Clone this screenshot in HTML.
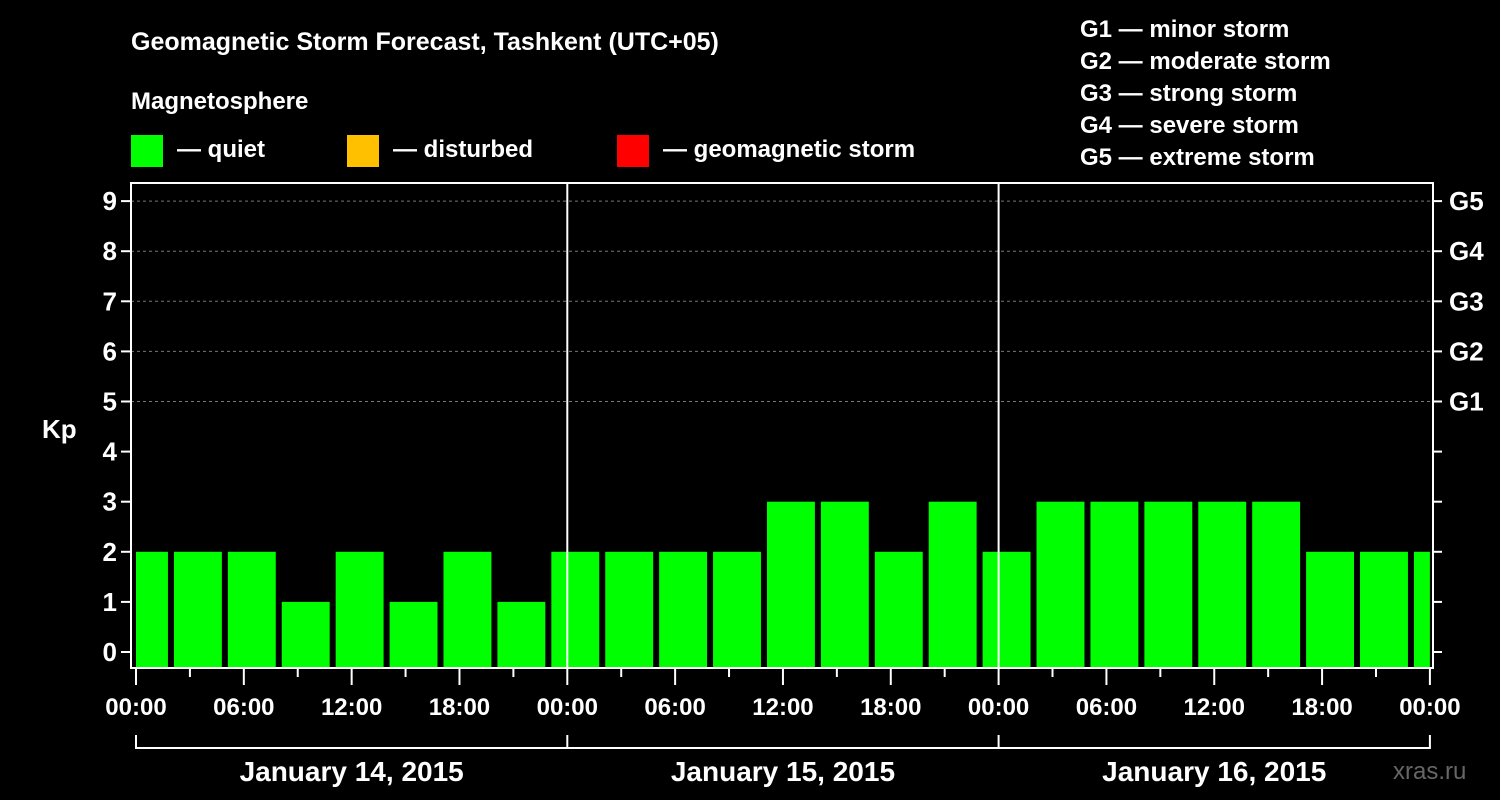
<!DOCTYPE html>
<html><head><meta charset="utf-8"><style>
body{margin:0;background:#000;}
svg{display:block;font-family:"Liberation Sans",Arial,sans-serif;font-weight:bold;}
</style></head><body>
<svg id="chart" width="1500" height="800" viewBox="0 0 1500 800">
<rect width="1500" height="800" fill="#000"/>
<text x="131" y="50" fill="#fff" font-size="25">Geomagnetic Storm Forecast, Tashkent (UTC+05)</text>
<text x="131" y="109" fill="#fff" font-size="24">Magnetosphere</text>
<g><rect x="131" y="135" width="32" height="32" fill="#00ff00"/><text x="177" y="157" fill="#fff" font-size="24">— quiet</text></g>
<g><rect x="347" y="135" width="32" height="32" fill="#ffc000"/><text x="393" y="157" fill="#fff" font-size="24">— disturbed</text></g>
<g><rect x="617" y="135" width="32" height="32" fill="#ff0000"/><text x="663" y="157" fill="#fff" font-size="24">— geomagnetic storm</text></g>
<g fill="#fff" font-size="24">
<text x="1080" y="37">G1 — minor storm</text>
<text x="1080" y="69">G2 — moderate storm</text>
<text x="1080" y="101">G3 — strong storm</text>
<text x="1080" y="133">G4 — severe storm</text>
<text x="1080" y="165">G5 — extreme storm</text>
</g>
<text x="42" y="438" fill="#fff" font-size="26">Kp</text>
<text x="1393" y="779" fill="#666" font-size="24" font-weight="normal">xras.ru</text>
<g id="grid"></g><g id="bars"></g><g id="axes"></g>
</svg>
<script>
const kpValues=[2,2,2,1,2,1,2,1,2,2,2,2,3,3,2,3,2,3,3,3,3,3,2,2,2];
const dayLabels=["January 14, 2015","January 15, 2015","January 16, 2015"];
const timeLabels=["00:00","06:00","12:00","18:00"];
const gLabels=["G1","G2","G3","G4","G5"];
const NS="http://www.w3.org/2000/svg";
const X0=136,DAY=431.3,L=131,R=1433,T=183,B=668;
const x=h=>X0+h*DAY/24;
const y=v=>652-v*50.1;
function mk(tag,attrs,parent){const e=document.createElementNS(NS,tag);for(const k in attrs)e.setAttribute(k,attrs[k]);document.getElementById(parent).appendChild(e);return e;}
// grid
for(let v=5;v<=9;v++){const e=mk('line',{x1:L,x2:R,y1:y(v),y2:y(v),stroke:'#777','stroke-dasharray':'3,3'},'grid');

}
// bars: 3h bins starting at -1:00 local
kpValues.forEach((v,i)=>{const s=-1+3*i;let x1=x(s)+2,x2=x(s+3)-4;x1=Math.max(x1,X0);x2=Math.min(x2,x(72));
const top=y(v);
const e=mk('rect',{x:x1,y:top,width:x2-x1,height:B-1-top,fill:v>=5?'#ff0000':v>=4?'#ffc000':'#00ff00'},'bars');

});
// axes frame
const f=mk('rect',{x:L,y:T,width:R-L,height:B-T,fill:'none',stroke:'#fff','stroke-width':2},'axes');


[1,2].forEach(d=>{const e=mk('line',{x1:x(24*d),x2:x(24*d),y1:T,y2:B,stroke:'#fff','stroke-width':2},'axes');

});
for(let v=0;v<=9;v++){
 mk('line',{x1:L-10,x2:L,y1:y(v),y2:y(v),stroke:'#fff','stroke-width':2},'axes');
 mk('line',{x1:R,x2:R+9,y1:y(v),y2:y(v),stroke:'#fff','stroke-width':2},'axes');
 const t=mk('text',{x:L-14,y:y(v)+9,fill:'#fff','font-size':26,'text-anchor':'end'},'axes');t.textContent=v;
 
 
 if(v>=5){const g=mk('text',{x:1449,y:y(v)+9,fill:'#fff','font-size':26},'axes');g.textContent=gLabels[v-5];
 
 }
}
for(let h=0;h<=72;h+=3){const major=h%6===0;
 mk('line',{x1:x(h),x2:x(h),y1:B,y2:B+(major?17:9),stroke:'#fff','stroke-width':2},'axes');
 if(major){const t=mk('text',{x:x(h),y:715,fill:'#fff','font-size':24,'text-anchor':'middle'},'axes');t.textContent=timeLabels[(h/6)%4];
 
 }}
mk('line',{x1:x(0),x2:x(72),y1:748,y2:748,stroke:'#fff','stroke-width':2},'axes');
for(let d=0;d<=3;d++)mk('line',{x1:x(24*d),x2:x(24*d),y1:735,y2:749,stroke:'#fff','stroke-width':2},'axes');
dayLabels.forEach((s,d)=>{const t=mk('text',{x:x(24*d+12),y:781,fill:'#fff','font-size':28,'text-anchor':'middle'},'axes');t.textContent=s;

});
</script>
</body></html>
